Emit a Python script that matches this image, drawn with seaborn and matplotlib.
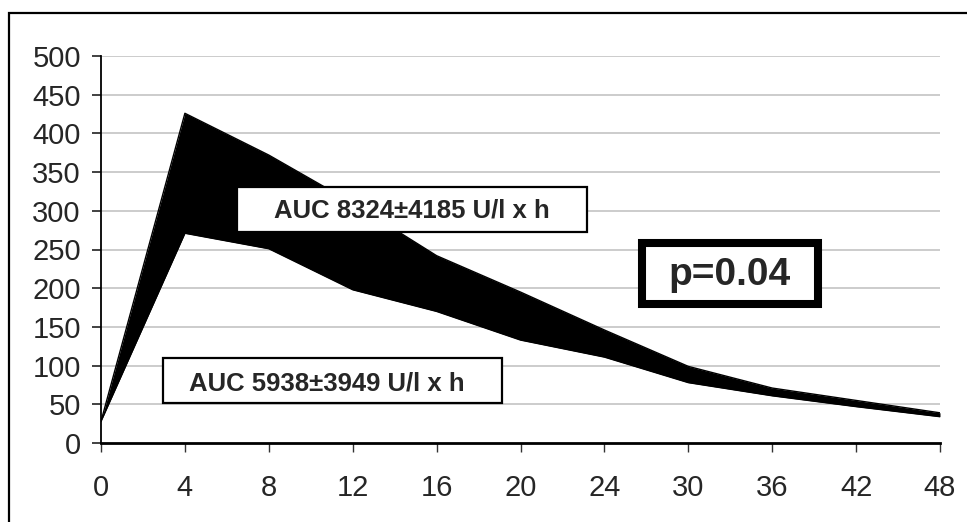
import numpy as np
import pandas as pd
import matplotlib
matplotlib.use("Agg")
import matplotlib.pyplot as plt
from matplotlib.patches import Rectangle
import seaborn as sns

# time points (h) and the two curves bounding the black band
hours = ["0", "4", "8", "12", "16", "20", "24", "30", "36", "42", "48"]
upper = [28, 426, 372, 310, 242, 195, 146, 99, 71, 55, 39]
lower = [28, 271, 251, 198, 170, 133, 111, 78, 61, 47, 34]

auc_high = "AUC 8324±4185 U/l x h"
auc_low = "AUC 5938±3949 U/l x h"
p_text = "p=0.04"

sns.set_style("white")
plt.rcParams["font.family"] = ["Liberation Sans", "DejaVu Sans"]

df = pd.DataFrame({"pos": np.arange(len(hours)), "upper": upper, "lower": lower})

fig = plt.figure(figsize=(9.67, 5.22), dpi=100)
ax = fig.add_axes([101 / 967, 79 / 522, 839 / 967, 387 / 522])

ax.fill_between(df["pos"], df["lower"], df["upper"], color="black", lw=0, zorder=2)
sns.lineplot(data=df, x="pos", y="upper", color="black", lw=1, ax=ax, zorder=3)
sns.lineplot(data=df, x="pos", y="lower", color="black", lw=1, ax=ax, zorder=3)

ax.set_xlim(0, len(hours) - 1)
ax.set_ylim(0, 500)
ax.set_xticks(df["pos"])
ax.set_xticklabels(hours)
ax.set_yticks(np.arange(0, 501, 50))
ax.set_xlabel("")
ax.set_ylabel("")

for yv in np.arange(50, 501, 50):
    ax.axhline(yv, color="#c8c8c8", lw=1.3, zorder=1)

for s in ["top", "right"]:
    ax.spines[s].set_visible(False)
ax.spines["left"].set_color("black")
ax.spines["left"].set_linewidth(1.3)
ax.spines["bottom"].set_color("black")
ax.spines["bottom"].set_linewidth(2)
ax.spines["bottom"].set_zorder(4)

ax.tick_params(axis="y", direction="out", length=6.5, width=1.3, color="#333333",
               pad=8, labelsize=21, left=True)
ax.tick_params(axis="x", direction="out", length=6.5, width=1, color="#333333",
               pad=16, labelsize=21, bottom=True)

# annotation boxes
ax.add_patch(Rectangle((0.162, 0.545), 0.417, 0.116, transform=ax.transAxes,
                       facecolor="white", edgecolor="black", lw=1.6, zorder=5))
ax.text(0.371, 0.602, auc_high, transform=ax.transAxes, ha="center", va="center",
        fontsize=18.5, fontweight="bold", zorder=6)

ax.add_patch(Rectangle((0.074, 0.103), 0.404, 0.116, transform=ax.transAxes,
                       facecolor="white", edgecolor="black", lw=1.6, zorder=5))
ax.text(0.269, 0.155, auc_low, transform=ax.transAxes, ha="center", va="center",
        fontsize=18.5, fontweight="bold", zorder=6)

ax.add_patch(Rectangle((0.645, 0.359), 0.210, 0.158, transform=ax.transAxes,
                       facecolor="white", edgecolor="black", lw=5.8, zorder=5))
ax.text(0.749, 0.434, p_text, transform=ax.transAxes, ha="center", va="center",
        fontsize=28, fontweight="bold", zorder=6)

# outer chart frame (right and bottom edges fall outside the image)
fig.patches.append(Rectangle((9 / 967, -0.1), 1.2, 1.1 - 13 / 522,
                             transform=fig.transFigure, fill=False,
                             edgecolor="black", lw=1.6))

fig.savefig("out.png", dpi=100)
